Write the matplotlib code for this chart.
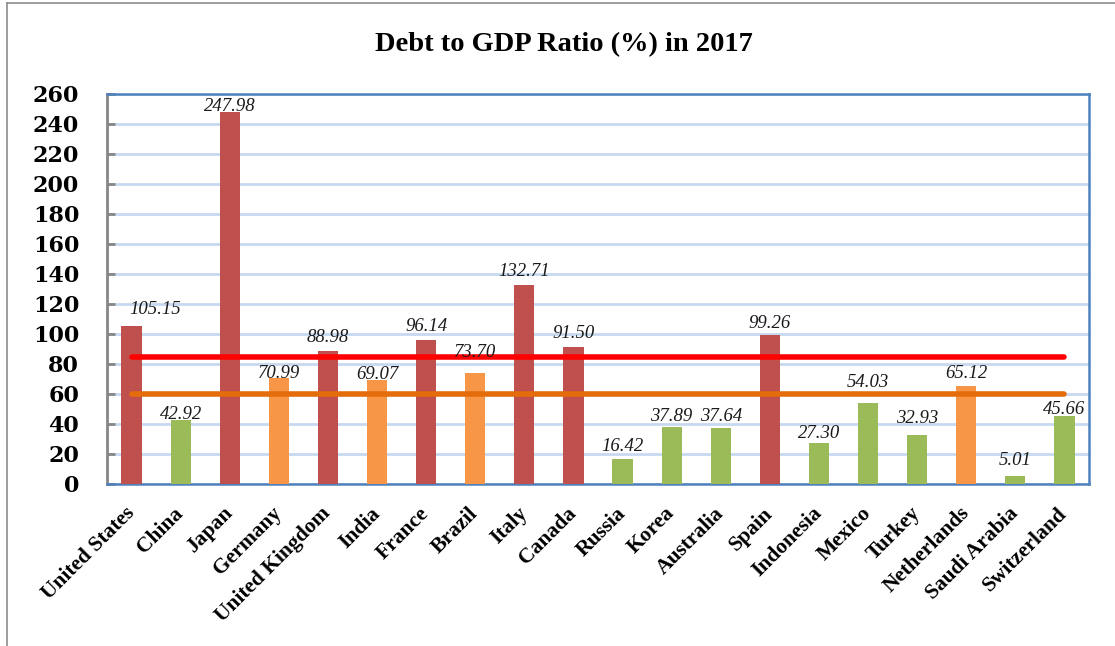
import matplotlib
matplotlib.use("Agg")
import matplotlib.pyplot as plt
from matplotlib.lines import Line2D

# Data
countries = ["United States", "China", "Japan", "Germany", "United Kingdom",
             "India", "France", "Brazil", "Italy", "Canada", "Russia", "Korea",
             "Australia", "Spain", "Indonesia", "Mexico", "Turkey",
             "Netherlands", "Saudi Arabia", "Switzerland"]
debt_ratio = [105.15, 42.92, 247.98, 70.99, 88.98, 69.07, 96.14, 73.70,
              132.71, 91.50, 16.42, 37.89, 37.64, 99.26, 27.30, 54.03,
              32.93, 65.12, 5.01, 45.66]
high_threshold = 85
ref_threshold = 60
y_ticks = list(range(0, 261, 20))

# Offsets (pixels) of the value labels relative to each bar top
label_dy = [18, 6.3, 7, 5.8, 14.5, 7, 14.8, 22.4, 15, 15, 14.4, 12,
            12.5, 13.4, 11.3, 22, 18, 14.6, 17.2, 7.2]
label_dx = [24] + [0] * 19

RED = "#C0504D"
ORANGE = "#F79646"
GREEN = "#9BBB59"

def bar_color(v):
    if v > high_threshold:
        return RED
    if v >= ref_threshold:
        return ORANGE
    return GREEN

W, H = 1115, 646
fig = plt.figure(figsize=(W / 100, H / 100), dpi=100)
ax = fig.add_axes([107 / W, 1 - 484 / H, (1089 - 107) / W, (484 - 94) / H])

x = list(range(len(countries)))
colors = [bar_color(v) for v in debt_ratio]
ax.bar(x, debt_ratio, width=0.41, color=colors, zorder=3)

# Threshold lines
ax.plot([x[0], x[-1]], [high_threshold] * 2, color="#FF0000", lw=4,
        solid_capstyle="round", zorder=4)
ax.plot([x[0], x[-1]], [ref_threshold] * 2, color="#E46C0A", lw=4,
        solid_capstyle="round", zorder=4)

# Value labels
for xi, v, dx, dy in zip(x, debt_ratio, label_dx, label_dy):
    ax.annotate(f"{v:.2f}", (xi, v), xytext=(dx, dy - 6),
                textcoords="offset pixels", ha="center", va="baseline",
                fontsize=13.5, fontstyle="italic", family="Liberation Serif",
                color="#1a1a1a", zorder=5)

ax.set_xlim(-0.5, len(countries) - 0.5)
ax.set_ylim(0, 260)
ax.set_yticks(y_ticks)
ax.set_yticklabels([str(t) for t in y_ticks], fontsize=16, fontweight="bold",
                   family="DejaVu Serif")
ax.yaxis.grid(True, color="#C6D9F1", lw=2, zorder=0)
ax.set_axisbelow(True)
ax.tick_params(axis="y", direction="in", length=6, width=2, color="#868686",
               pad=20)

ax.set_xticks(x)
ax.set_xticklabels(countries, rotation=45, ha="right", va="center",
                   rotation_mode="anchor", fontsize=15.5, fontweight="bold",
                   family="Liberation Serif")
ax.tick_params(axis="x", length=0, pad=19)

for side in ["top", "right", "bottom"]:
    ax.spines[side].set_color("#4F81BD")
    ax.spines[side].set_linewidth(1.8)
ax.spines["left"].set_color("#868686")
ax.spines["left"].set_linewidth(2)

fig.text(564 / W, 1 - 51 / H, "Debt to GDP Ratio (%) in 2017", ha="center",
         va="baseline", fontsize=20.5, fontweight="bold",
         family="Liberation Serif")

# Outer frame (left and top edges)
fig.add_artist(Line2D([7 / W, 7 / W], [0, 1 - 3 / H], color="#8C8C8C", lw=1.2,
                      transform=fig.transFigure))
fig.add_artist(Line2D([7 / W, 1], [1 - 3 / H, 1 - 3 / H], color="#8C8C8C",
                      lw=1.2, transform=fig.transFigure))

fig.savefig("out.png", dpi=100)
